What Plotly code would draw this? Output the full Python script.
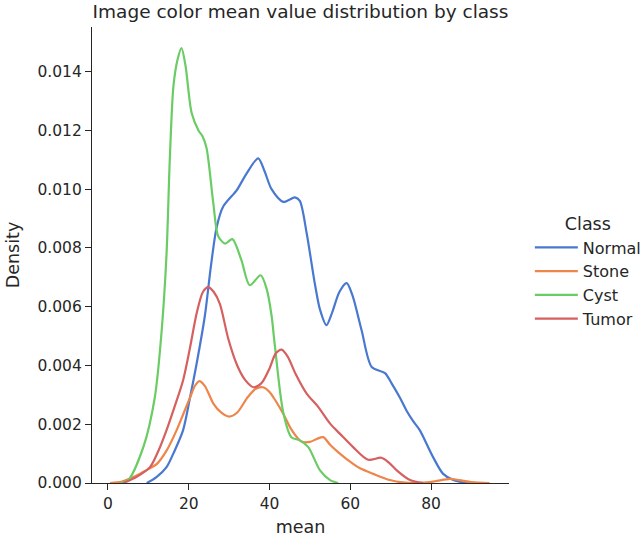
import plotly.graph_objects as go

# ---- data (KDE curves: x = mean, y = density) ----
normal_x = [9.6, 12, 14.5, 16.5, 18.6, 20.3, 22.0, 24.0, 25.5, 26.9, 28.5, 31.9, 34.3, 37.2, 38.8,
            40.5, 43.4, 46.3, 47.5, 49.2, 51.2, 52.5, 54.1, 55.5, 57.3, 59.1, 60.5, 62.8, 65.3,
            68.6, 70.2, 72.3, 73.9, 75.6, 77.2, 80.5, 83, 85.5, 88, 90]
normal_y = [0, 0.0002, 0.00054, 0.0011, 0.0018, 0.0029, 0.0041, 0.0057, 0.0074, 0.0087, 0.0094,
            0.00997, 0.01053, 0.01105, 0.0106, 0.0100, 0.00957, 0.00972, 0.0096, 0.0085, 0.0068,
            0.0059, 0.00537, 0.0058, 0.0065, 0.0068, 0.0064, 0.0052, 0.00395, 0.00374, 0.0034,
            0.0029, 0.00247, 0.0021, 0.0018, 0.00088, 0.00031, 0.0001, 0.00002, 0]

stone_x = [0.5, 3.5, 6.3, 9, 12.1, 14.5, 17.0, 18.8, 20.3, 21.5, 22.6, 24, 26.1, 28, 30.0, 32,
           34.5, 36.5, 38.4, 40, 41.5, 43.4, 45.5, 47.9, 50, 51.7, 53.3, 55, 57.4, 60.7, 62.4,
           65.7, 69.8, 73, 78, 81, 84.7, 87, 90, 94.5]
stone_y = [0, 0.00005, 0.0002, 0.0004, 0.00065, 0.0011, 0.0018, 0.0024, 0.0029, 0.0033, 0.00347,
           0.0033, 0.0027, 0.0024, 0.00226, 0.0024, 0.0029, 0.0032, 0.00326, 0.0031, 0.0028,
           0.00236, 0.0018, 0.00141, 0.0014, 0.0015, 0.00156, 0.0013, 0.001, 0.00065, 0.0005,
           0.00031, 0.0001, 0.00002, 0.00001, 0.00006, 0.00014, 0.0001, 0.00003, 0]

cyst_x = [3, 5, 8.75, 11.6, 13.3, 14.5, 15.3, 16.2, 17.2, 18.2, 19.2, 20.7, 22.4, 23.4, 24.4,
          26.1, 27.3, 29.0, 30.8, 33, 35.1, 37.8, 39.3, 40.5, 41.3, 43.4, 45.4, 47.5, 49.6,
          52.5, 55, 57]
cyst_y = [0, 0.0001, 0.00122, 0.00292, 0.0052, 0.0078, 0.0110, 0.0135, 0.0144, 0.0148, 0.0142,
          0.0126, 0.0120, 0.0118, 0.0114, 0.0095, 0.0084, 0.00815, 0.0083, 0.0076, 0.00673,
          0.00707, 0.0066, 0.0057, 0.0047, 0.0024, 0.00156, 0.00145, 0.00122, 0.00043, 0.0001, 0]

tumor_x = [3.8, 7, 10.4, 12.5, 14.5, 16.5, 18.6, 20.3, 22.0, 23.5, 24.8, 26.2, 27.7, 29.8, 32,
           34, 36.0, 38, 40, 41.5, 43.0, 44.5, 46.5, 49.2, 52, 55, 57.4, 60.7, 64.4, 67.7,
           69.5, 71.5, 74.8, 78]
tumor_y = [0, 0.0002, 0.00054, 0.0011, 0.0018, 0.0026, 0.0035, 0.0046, 0.0058, 0.0065, 0.00667,
           0.0065, 0.0061, 0.0049, 0.0040, 0.0035, 0.00326, 0.0034, 0.0039, 0.0044, 0.00454,
           0.0043, 0.0037, 0.00304, 0.0026, 0.00202, 0.00168, 0.00122, 0.00079, 0.00086,
           0.0007, 0.00043, 0.0001, 0]

classes = ["Normal", "Stone", "Cyst", "Tumor"]
series_x = [normal_x, stone_x, cyst_x, tumor_x]
series_y = [normal_y, stone_y, cyst_y, tumor_y]
colors = ["#4878d0", "#ee854a", "#6acc64", "#d65f5f"]

x_ticks = [0, 20, 40, 60, 80]
y_ticks = [0.000, 0.002, 0.004, 0.006, 0.008, 0.010, 0.012, 0.014]

fig = go.Figure()
for name, xs, ys, c in zip(classes, series_x, series_y, colors):
    fig.add_trace(go.Scatter(x=xs, y=ys, mode="lines", name=name,
                             line=dict(color=c, width=2.2, shape="spline", smoothing=0.8)))

txt = "#262626"
font = "DejaVu Sans"
fig.update_layout(
    width=644, height=537,
    margin=dict(l=92, r=135, t=27, b=54, autoexpand=False),
    paper_bgcolor="white", plot_bgcolor="white",
    font=dict(family=font, size=15.5, color=txt),
    title=dict(text="Image color mean value distribution by class", x=0.5, xref="paper",
               xanchor="center", y=1 - 5 / 537, yref="container", yanchor="top",
               font=dict(size=18.5, color=txt), automargin=False),
    showlegend=True,
    legend=dict(x=1.05, y=0.4635, xanchor="left", yanchor="middle", itemwidth=43,
                title=dict(text="Class", side="top center", font=dict(size=17.5)),
                font=dict(size=16), bgcolor="rgba(0,0,0,0)"),
)
fig.update_xaxes(range=[-3.96, 99.3], tickvals=x_ticks, ticks="outside", ticklen=6,
                 tickwidth=1.3, tickcolor=txt, showline=True, linecolor=txt, linewidth=1.3,
                 showgrid=False, zeroline=False, automargin=False,
                 title=dict(text="mean", standoff=8, font=dict(size=17.5)))
fig.update_yaxes(range=[0, 0.01552], tickvals=y_ticks, tickformat=".3f", ticks="outside",
                 ticklen=6, tickwidth=1.3, tickcolor=txt, showline=True, linecolor=txt,
                 linewidth=1.3, showgrid=False, zeroline=False, automargin=False,
                 title=dict(text="Density", standoff=13, font=dict(size=17.5)))

fig.write_html("out.html", config={"displayModeBar": False},
               post_script="document.body.style.margin='0';document.body.style.padding='0';")
